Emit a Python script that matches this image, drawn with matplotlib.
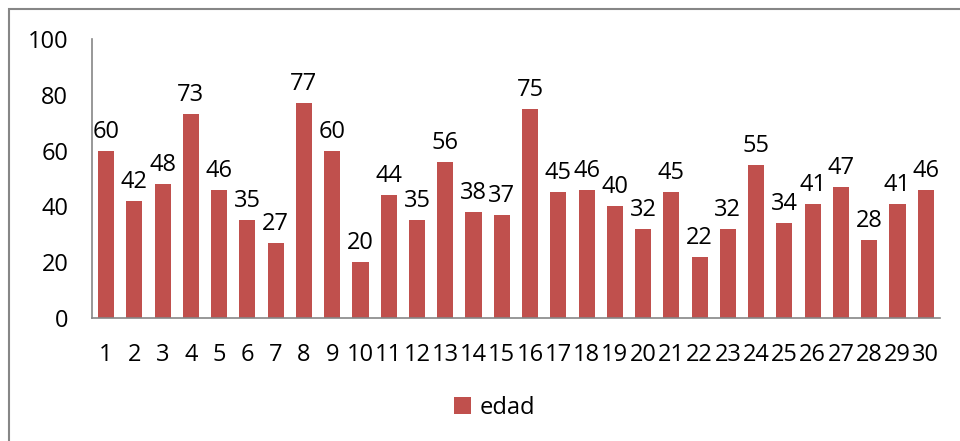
import matplotlib
matplotlib.use("Agg")
import matplotlib.pyplot as plt
from matplotlib.patches import Rectangle

plt.rcParams['font.family'] = ['Open Sans', 'DejaVu Sans']

personas = list(range(1, 31))
edad = [60, 42, 48, 73, 46, 35, 27, 77, 60, 20, 44, 35, 56, 38, 37,
        75, 45, 46, 40, 32, 45, 22, 32, 55, 34, 41, 47, 28, 41, 46]
y_ticks = [0, 20, 40, 60, 80, 100]

color = '#C0504D'
gris = '#868686'
fs = 17

fig = plt.figure(figsize=(9.6, 4.41), dpi=100)
ax = fig.add_axes([0.0958, 0.279, 0.8832, 0.6326])

bars = ax.bar(personas, edad, width=0.57, color=color, label='edad')
for b, v in zip(bars, edad):
    ax.annotate(str(v), (b.get_x() + b.get_width() / 2, v),
                xytext=(0, 5), textcoords='offset points',
                ha='center', va='bottom', fontsize=fs)

ax.set_xlim(0.5, 30.5)
ax.set_ylim(0, 100)
ax.set_yticks(y_ticks)
ax.set_xticks(personas)
ax.tick_params(axis='both', length=0, labelsize=fs)
ax.tick_params(axis='x', pad=18)
ax.tick_params(axis='y', pad=17)
for s in ['top', 'right']:
    ax.spines[s].set_visible(False)
for s in ['left', 'bottom']:
    ax.spines[s].set_color(gris)
    ax.spines[s].set_linewidth(1.2)

# marco del gráfico
fig.patches.append(Rectangle((9 / 960, -0.05), 1.0, 1 - 9 / 441 + 0.05,
                             transform=fig.transFigure, fill=False,
                             edgecolor=gris, linewidth=1.5))

fig.legend(handles=[bars], labels=['edad'], loc='center',
           bbox_to_anchor=(0.515, 1 - 408 / 441), frameon=False,
           fontsize=fs, handlelength=0.75, handleheight=0.75, handletextpad=0.35)

fig.savefig('out.png', dpi=100)
